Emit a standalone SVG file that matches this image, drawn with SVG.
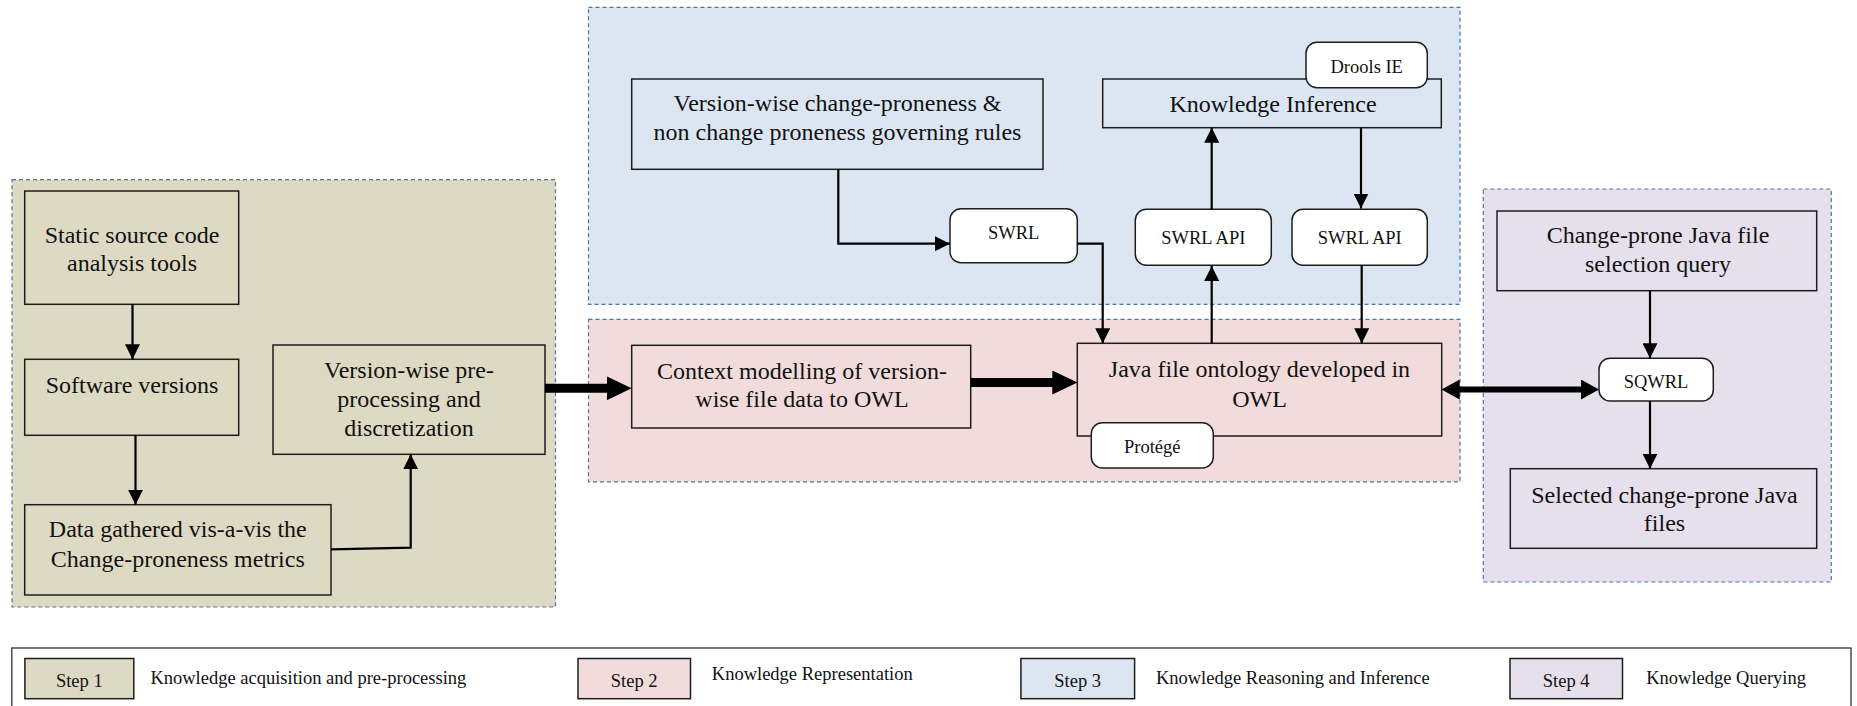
<svg xmlns="http://www.w3.org/2000/svg" width="1857" height="706" viewBox="0 0 1857 706">
  <style>
    text { font-family: "Liberation Serif", "Times New Roman", serif; fill: #111; text-anchor: middle; }
    .big { font-size: 24px; }
    .small { font-size: 18.5px; }
    .leg { font-size: 18.5px; text-anchor: start; }
    .zone { stroke: #4f75a3; stroke-width: 1.2; stroke-dasharray: 4 3; }
    .s1 { fill: #DDD9C3; }
    .s2 { fill: #F2DCDB; }
    .s3 { fill: #DCE6F2; }
    .s4 { fill: #E5E0EC; }
    .box { stroke: #1e1e1e; stroke-width: 1.5; }
    .tag { fill: #ffffff; stroke: #1e1e1e; stroke-width: 1.5; }
    .thin { fill: none; stroke: #000; stroke-width: 2.2; }
    .thick { fill: none; stroke: #000; stroke-width: 9; }
    .mid { fill: none; stroke: #000; stroke-width: 6; }
  </style>
  <defs>
    <marker id="ah" markerUnits="userSpaceOnUse" markerWidth="15" markerHeight="15" refX="15" refY="7.5" orient="auto">
      <path d="M0,0 L15,7.5 L0,15 z" fill="#000"/>
    </marker>
    <marker id="ahb" markerUnits="userSpaceOnUse" markerWidth="25" markerHeight="24" refX="3" refY="12" orient="auto">
      <path d="M0,0 L25,12 L0,24 z" fill="#000"/>
    </marker>
    <marker id="ahm" markerUnits="userSpaceOnUse" markerWidth="18" markerHeight="20" refX="3" refY="10" orient="auto-start-reverse">
      <path d="M0,0 L18,10 L0,20 z" fill="#000"/>
    </marker>
  </defs>

  <rect width="1857" height="706" fill="#ffffff"/>

  <!-- step zones -->
  <g id="zones">
    <rect id="zone-step1" class="zone s1" x="12" y="179.7" width="543.5" height="427.3"/>
    <rect id="zone-step3" class="zone s3" x="588.5" y="7.3" width="871.5" height="297"/>
    <rect id="zone-step2" class="zone s2" x="588.5" y="319.3" width="871.5" height="162.5"/>
    <rect id="zone-step4" class="zone s4" x="1483.3" y="189" width="348" height="393"/>
  </g>

  <!-- step 1: acquisition -->
  <g id="static-tools">
    <rect class="box s1" x="24.7" y="191" width="214" height="113.3"/>
    <text class="big" x="132" y="243.3">Static source code</text>
    <text class="big" x="132" y="271">analysis tools</text>
  </g>
  <g id="software-versions">
    <rect class="box s1" x="24.7" y="359.3" width="214" height="76"/>
    <text class="big" x="132" y="393.3">Software versions</text>
  </g>
  <g id="data-gathered">
    <rect class="box s1" x="24.7" y="504.7" width="306.3" height="90.3"/>
    <text class="big" x="177.8" y="537.3">Data gathered vis-a-vis the</text>
    <text class="big" x="177.8" y="566.7">Change-proneness metrics</text>
  </g>
  <g id="preprocessing">
    <rect class="box s1" x="273" y="345" width="272" height="109.3"/>
    <text class="big" x="409" y="378.3">Version-wise pre-</text>
    <text class="big" x="409" y="407.3">processing and</text>
    <text class="big" x="409" y="435.7">discretization</text>
  </g>

  <!-- step 3: reasoning -->
  <g id="governing-rules">
    <rect class="box s3" x="631.7" y="79" width="411.3" height="90.3"/>
    <text class="big" x="837.5" y="111">Version-wise change-proneness &amp;</text>
    <text class="big" x="837.5" y="140">non change proneness governing rules</text>
  </g>
  <g id="knowledge-inference">
    <rect class="box s3" x="1102.7" y="79" width="338.6" height="48.7"/>
    <text class="big" x="1273" y="111.7">Knowledge Inference</text>
  </g>
  <g id="drools">
    <rect class="tag" x="1306" y="42.3" width="121.3" height="45.4" rx="11"/>
    <text class="small" x="1366.7" y="73.3">Drools IE</text>
  </g>
  <g id="swrl">
    <rect class="tag" x="950" y="208.7" width="127.3" height="54" rx="11"/>
    <text class="small" x="1013.7" y="239.3">SWRL</text>
  </g>
  <g id="swrl-api-1">
    <rect class="tag" x="1135.3" y="209.3" width="136" height="56" rx="11"/>
    <text class="small" x="1203.3" y="244">SWRL API</text>
  </g>
  <g id="swrl-api-2">
    <rect class="tag" x="1292" y="209.3" width="135.3" height="56" rx="11"/>
    <text class="small" x="1359.7" y="244">SWRL API</text>
  </g>

  <!-- step 2: representation -->
  <g id="context-modelling">
    <rect class="box s2" x="631.7" y="345.3" width="339" height="82.7"/>
    <text class="big" x="802" y="379">Context modelling of version-</text>
    <text class="big" x="802" y="407.3">wise file data to OWL</text>
  </g>
  <g id="java-ontology">
    <rect class="box s2" x="1077.3" y="343.3" width="364.4" height="92.7"/>
    <text class="big" x="1259.5" y="376.7">Java file ontology developed in</text>
    <text class="big" x="1259.5" y="406.7">OWL</text>
  </g>
  <g id="protege">
    <rect class="tag" x="1091.3" y="422.7" width="122" height="45.3" rx="11"/>
    <text class="small" x="1152.3" y="453.3">Protégé</text>
  </g>

  <!-- step 4: querying -->
  <g id="selection-query">
    <rect class="box s4" x="1497" y="211" width="319.7" height="79.7"/>
    <text class="big" x="1658" y="243.3">Change-prone Java file</text>
    <text class="big" x="1658" y="271.7">selection query</text>
  </g>
  <g id="sqwrl">
    <rect class="tag" x="1599" y="358.3" width="114.3" height="42.7" rx="11"/>
    <text class="small" x="1656" y="388.3">SQWRL</text>
  </g>
  <g id="selected-files">
    <rect class="box s4" x="1510.3" y="468.7" width="306.4" height="79.6"/>
    <text class="big" x="1664.5" y="503.3">Selected change-prone Java</text>
    <text class="big" x="1664.5" y="531">files</text>
  </g>

  <!-- connectors -->
  <g id="connectors">
    <path class="thin" d="M132.5,304.3 V359.3" marker-end="url(#ah)"/>
    <path class="thin" d="M135.5,435.3 V504.7" marker-end="url(#ah)"/>
    <path class="thin" d="M331,549.3 L410.7,547.7 V454.3" marker-end="url(#ah)"/>
    <path class="thick" d="M545,388.3 H609.7" marker-end="url(#ahb)"/>
    <path class="thick" d="M970.7,382.5 H1055.3" marker-end="url(#ahb)"/>
    <path class="thin" d="M838.3,169.3 V243.7 H950" marker-end="url(#ah)"/>
    <path class="thin" d="M1077.3,243.7 H1102.7 V343.3" marker-end="url(#ah)"/>
    <path class="thin" d="M1211.7,343.3 V266" marker-end="url(#ah)"/>
    <path class="thin" d="M1211.7,209.3 V127.7" marker-end="url(#ah)"/>
    <path class="thin" d="M1361,127.7 V208.5" marker-end="url(#ah)"/>
    <path class="thin" d="M1361.7,265.3 V343.3" marker-end="url(#ah)"/>
    <path class="mid" d="M1456.7,389.5 H1584" marker-start="url(#ahm)" marker-end="url(#ahm)"/>
    <path class="thin" d="M1650,290.7 V358.3" marker-end="url(#ah)"/>
    <path class="thin" d="M1650,401 V468.7" marker-end="url(#ah)"/>
  </g>

  <!-- legend -->
  <g id="legend">
    <rect x="11.8" y="648" width="1839.2" height="62" fill="#ffffff" stroke="#333" stroke-width="1.3"/>
    <rect class="box s1" x="24.9" y="658.5" width="108.9" height="40.2"/>
    <text class="small" x="79.3" y="686.5">Step 1</text>
    <text class="leg" x="150.4" y="683.5">Knowledge acquisition and pre-processing</text>
    <rect class="box s2" x="578" y="658.5" width="112.5" height="40.2"/>
    <text class="small" x="634.2" y="686.5">Step 2</text>
    <text class="leg" x="711.8" y="680">Knowledge Representation</text>
    <rect class="box s3" x="1020.9" y="658.5" width="113.7" height="40.2"/>
    <text class="small" x="1077.7" y="686.5">Step 3</text>
    <text class="leg" x="1155.9" y="684">Knowledge Reasoning and Inference</text>
    <rect class="box s4" x="1510" y="658.5" width="112.5" height="40.2"/>
    <text class="small" x="1566.2" y="686.5">Step 4</text>
    <text class="leg" x="1646.2" y="684">Knowledge Querying</text>
  </g>
</svg>
